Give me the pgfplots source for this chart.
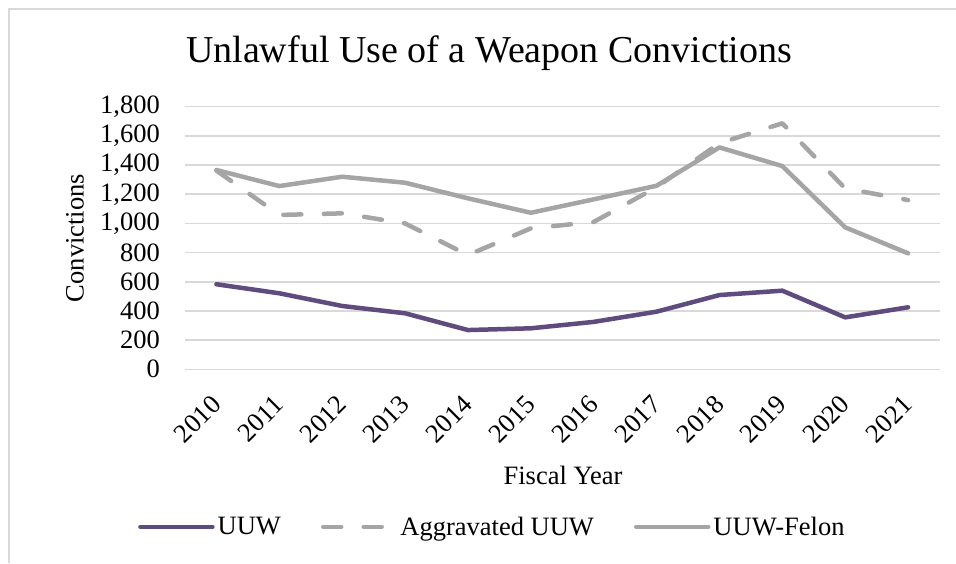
\documentclass[border=0pt]{standalone}
\usepackage{pgfplots}
\pgfplotsset{compat=1.18}
\usepackage{fontspec}
\setmainfont{Liberation Serif}

\definecolor{uuwpurple}{HTML}{5F4B7D}
\definecolor{uuwgrey}{HTML}{A5A5A5}
\definecolor{gridgrey}{HTML}{D9D9D9}

\begin{document}
\begin{tikzpicture}
\useasboundingbox (-185pt,-193.7pt) rectangle (771pt,369.3pt);
% chart frame (top and left edges)
\draw[gridgrey, line width=1.3pt] (-176pt,-193.7pt) -- (-176pt,360.3pt) -- (771pt,360.3pt);
\begin{axis}[
  at={(0pt,0pt)}, anchor=south west,
  scale only axis,
  width=754.5pt, height=262.6pt,
  xmin=-0.5, xmax=11.5,
  ymin=0, ymax=1800,
  ytick={0,200,...,1800},
  xtick={0,...,11},
  xticklabels={2010,2011,2012,2013,2014,2015,2016,2017,2018,2019,2020,2021},
  axis line style={draw=none},
  major tick style={draw=none},
  ymajorgrids,
  major grid style={gridgrey, line width=1.5pt},
  /pgf/number format/assume math mode=true,
  /pgf/number format/1000 sep={,},
  scaled y ticks=false,
  tick label style={font=\fontsize{26.5}{30}\selectfont},
  yticklabel style={inner sep=0pt, anchor=east, xshift=-25pt},
  xticklabel style={inner sep=0pt, rotate=45, anchor=east},
  xticklabel shift=31pt,
  legend style={at={(0.408,-0.60)}, anchor=center, draw=none, fill=none,
    font=\fontsize{26.5}{30}\selectfont, legend columns=3,
    /tikz/every even column/.append style={column sep=37pt},
    nodes={inner sep=3pt}},
  legend cell align=left,
  legend image code/.code={\draw[#1] (0pt,0pt) -- (72pt,0pt);},
  every axis plot/.append style={line width=4.5pt, line join=round, line cap=round},
]
\addplot[uuwpurple] coordinates {
  (0,583) (1,521) (2,434) (3,384) (4,269) (5,281)
  (6,325) (7,395) (8,509) (9,539) (10,356) (11,425)};
\addlegendentry{UUW}
\addplot[uuwgrey, dash pattern=on 18pt off 22.5pt] coordinates {
  (0,1362) (1,1058) (2,1069) (3,1000) (4,783) (5,966)
  (6,1010) (7,1248) (8,1550) (9,1686) (10,1240) (11,1160)};
\addlegendentry{Aggravated UUW}
\addplot[uuwgrey] coordinates {
  (0,1366) (1,1256) (2,1320) (3,1279) (4,1172) (5,1073)
  (6,1165) (7,1258) (8,1521) (9,1393) (10,973) (11,795)};
\addlegendentry{UUW-Felon}
\end{axis}
% title and axis titles
\node[anchor=base, font=\fontsize{38}{44}\selectfont] at (304pt,306.3pt) {Unlawful Use of a Weapon Convictions};
\node[anchor=base, font=\fontsize{26.5}{30}\selectfont] at (378pt,-114.7pt) {Fiscal Year};
\node[rotate=90, anchor=center, font=\fontsize{26.5}{30}\selectfont] at (-110pt,131.3pt) {Convictions};
\end{tikzpicture}
\end{document}
